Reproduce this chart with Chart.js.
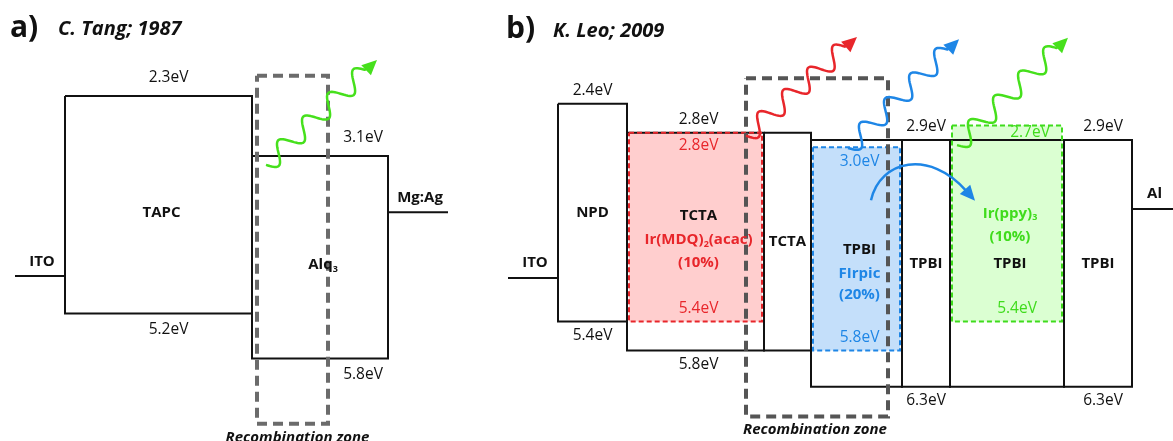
<!DOCTYPE html>
<html>
<head>
<meta charset="utf-8">
<title>OLED energy levels</title>
<script src="https://cdn.jsdelivr.net/npm/chart.js@4.4.1/dist/chart.umd.min.js"></script>
<style>
  html, body { margin: 0; padding: 0; background: #fff; }
  #wrap { width: 1173px; height: 441px; }
</style>
</head>
<body>
<div id="wrap"><canvas id="levels" width="1173" height="441"></canvas></div>
<script>
/* ================= DATA ================= */

// a) C. Tang; 1987  (energies in eV below vacuum)
const layersA = ["TAPC", "Alq_3"];
const lumoA = [2.3, 3.1];
const homoA = [5.2, 5.8];
const edgesA = [65, 252, 388];            // layer boundaries along the stack
const electrodesA = ["ITO", "Mg:Ag"];
const workFnA = [4.7, 3.85];
const electrodeSpanA = [[15, 65], [388, 448]];
const zoneSpanA = [257, 328];
const zoneLevelsA = [2.03, 6.67];

// b) K. Leo; 2009
const layersB = ["NPD", "TCTA", "TCTA", "TPBI", "TPBI", "TPBI", "TPBI"];
const lumoB = [2.4, 2.8, 2.8, 2.9, 2.9, 2.9, 2.9];
const homoB = [5.4, 5.8, 5.8, 6.3, 6.3, 6.3, 6.3];
const edgesB = [558, 627, 764, 811, 902, 950, 1064, 1132];
const labelledB = [true, true, false, false, true, false, true];
const electrodesB = ["ITO", "Al"];
const workFnB = [4.8, 3.85];
const electrodeSpanB = [[508, 558], [1132, 1173]];
const zoneSpanB = [746, 888];
const zoneLevelsB = [2.05, 6.71];

// emitters doped into panel b hosts
const dopants = ["Ir(MDQ)_2(acac)", "FIrpic", "Ir(ppy)_3"];
const dopantHost = [1, 3, 5];
const dopantLumo = [2.8, 3.0, 2.7];
const dopantHomo = [5.4, 5.8, 5.4];
const dopantConc = ["(10%)", "(20%)", "(10%)"];

/* ================= STYLE ================= */

const FONT = '"Open Sans", "Liberation Sans", sans-serif';
const INK = "#111";
const LABEL = 15.5;     // eV labels
const NAME = 15;        // layer names
const dopantLine = ["#e8262b", "#1e86e6", "#3fdc1c"];
const dopantFill = ["rgba(255,190,190,0.75)", "rgba(190,220,250,0.9)", "rgba(215,255,205,0.9)"];
const levelDxA = [10, 43];
const levelDxB = [0, 3, 0, 0, 0, 0, 5];
const dopantTopDx = [3, 3, 23];
const dopantTopDy = [13, 14, 7];
const dopantBotDx = [3, 3, 10];
// [host name, dopant name, concentration] vertical offsets from box middle
const dopantRowDy = [[-26, -2, 21], [-14, 10, 31], [0, -50, -27]];

// photons: [panel, colour, fromX, fromE, toX, toE]
const photons = [
  ["A", "#46e01c", 266, 3.22, 377, 1.82],
  ["B", "#e8262b", 746, 2.84, 857, 1.48],
  ["B", "#1e86e6", 848, 3.01, 959, 1.51],
  ["B", "#46e01c", 957, 2.97, 1068, 1.49]
];

/* ================= DATASETS ================= */

function box(x0, x1, top, bottom) {
  return [
    { x: x0, y: top }, { x: x1, y: top },
    { x: x1, y: bottom }, { x: x0, y: bottom }, { x: x0, y: top }
  ];
}

const datasets = [];

// dopant shading (behind everything)
dopants.forEach((d, i) => {
  const h = dopantHost[i];
  datasets.push({
    data: box(edgesB[h] + 2, edgesB[h + 1] - 2, dopantLumo[i], dopantHomo[i]),
    yAxisID: "yB", borderWidth: 0, backgroundColor: dopantFill[i],
    fill: "shape", order: 6
  });
});

// layer boxes
layersA.forEach((n, i) => {
  datasets.push({
    data: box(edgesA[i], edgesA[i + 1], lumoA[i], homoA[i]),
    yAxisID: "yA", borderColor: INK, borderWidth: 2, fill: false, order: 4
  });
});
layersB.forEach((n, i) => {
  datasets.push({
    data: box(edgesB[i], edgesB[i + 1], lumoB[i], homoB[i]),
    yAxisID: "yB", borderColor: INK, borderWidth: 2, fill: false, order: 4
  });
});

// dopant dashed outlines
dopants.forEach((d, i) => {
  const h = dopantHost[i];
  datasets.push({
    data: box(edgesB[h] + 2, edgesB[h + 1] - 2, dopantLumo[i], dopantHomo[i]),
    yAxisID: "yB", borderColor: dopantLine[i], borderWidth: 2,
    borderDash: [5, 3], fill: false, order: 3
  });
});

// electrodes
electrodesA.forEach((n, i) => {
  const [x0, x1] = electrodeSpanA[i];
  datasets.push({
    data: [{ x: x0, y: workFnA[i] }, { x: x1, y: workFnA[i] }],
    yAxisID: "yA", borderColor: INK, borderWidth: 2, order: 4
  });
});
electrodesB.forEach((n, i) => {
  const [x0, x1] = electrodeSpanB[i];
  datasets.push({
    data: [{ x: x0, y: workFnB[i] }, { x: x1, y: workFnB[i] }],
    yAxisID: "yB", borderColor: INK, borderWidth: 2, order: 4
  });
});

// recombination zones
datasets.push({
  data: box(zoneSpanA[0], zoneSpanA[1], zoneLevelsA[0], zoneLevelsA[1]),
  yAxisID: "yA", borderColor: "#6b6b6b", borderWidth: 4, borderDash: [10, 6], order: 1
});
datasets.push({
  data: box(zoneSpanB[0], zoneSpanB[1], zoneLevelsB[0], zoneLevelsB[1]),
  yAxisID: "yB", borderColor: "#555555", borderWidth: 4, borderDash: [10, 6], order: 1
});

datasets.forEach(ds => {
  ds.showLine = true;
  ds.pointRadius = 0;
  ds.borderJoinStyle = "miter";
});

/* ================= TEXT + PHOTONS ================= */

// "_2" style markers become subscripts
function richText(ctx, str, x, y, size, weight, color) {
  const parts = str.split(/_(\d)/);
  const big = `${weight} ${size}px ${FONT}`;
  const small = `${weight} ${Math.round(size * 0.6)}px ${FONT}`;
  let total = 0;
  parts.forEach((p, i) => {
    ctx.font = i % 2 ? small : big;
    total += ctx.measureText(p).width;
  });
  let cx = x - total / 2;
  ctx.fillStyle = color;
  ctx.textAlign = "left";
  ctx.textBaseline = "middle";
  parts.forEach((p, i) => {
    ctx.font = i % 2 ? small : big;
    ctx.fillText(p, cx, i % 2 ? y + size * 0.3 : y);
    cx += ctx.measureText(p).width;
  });
}

function arrowHead(ctx, tx, ty, ux, uy, len, half, color) {
  ctx.fillStyle = color;
  ctx.beginPath();
  ctx.moveTo(tx, ty);
  ctx.lineTo(tx - ux * len - uy * half, ty - uy * len + ux * half);
  ctx.lineTo(tx - ux * len + uy * half, ty - uy * len - ux * half);
  ctx.closePath();
  ctx.fill();
}

function wavyArrow(ctx, x0, y0, x1, y1, color) {
  const len = Math.hypot(x1 - x0, y1 - y0);
  const ux = (x1 - x0) / len, uy = (y1 - y0) / len;
  const head = 15, run = len - head;
  const periods = 4, amp = 9.5;
  ctx.strokeStyle = color;
  ctx.lineWidth = 2.5;
  ctx.lineJoin = "round";
  ctx.beginPath();
  for (let s = 0; s <= run; s += 1) {
    const w = amp * Math.sin(2 * Math.PI * periods * s / run);
    const px = x0 + ux * s - uy * w;
    const py = y0 + uy * s + ux * w;
    s === 0 ? ctx.moveTo(px, py) : ctx.lineTo(px, py);
  }
  ctx.lineTo(x0 + ux * (run + 4), y0 + uy * (run + 4));
  ctx.stroke();
  arrowHead(ctx, x1, y1, ux, uy, head, 7, color);
}

const annotate = {
  id: "annotate",
  afterDatasetsDraw(chart) {
    const { ctx, scales } = chart;
    const X = v => scales.x.getPixelForValue(v);
    const YA = v => scales.yA.getPixelForValue(v);
    const YB = v => scales.yB.getPixelForValue(v);
    ctx.save();

    // panel titles
    ctx.textAlign = "left";
    ctx.textBaseline = "alphabetic";
    ctx.fillStyle = "#111";
    ctx.font = `bold 30px ${FONT}`;
    ctx.fillText("a)", 10, 37);
    ctx.fillText("b)", 506, 38);
    ctx.font = `italic bold 20px ${FONT}`;
    ctx.fillText("C. Tang; 1987", 58, 35);
    ctx.fillText("K. Leo; 2009", 553, 37);

    // panel a levels and names
    layersA.forEach((n, i) => {
      const cx = X((edgesA[i] + edgesA[i + 1]) / 2);
      const top = YA(lumoA[i]), bot = YA(homoA[i]);
      richText(ctx, lumoA[i].toFixed(1) + "eV", cx + levelDxA[i], top - 18, LABEL, "normal", INK);
      richText(ctx, homoA[i].toFixed(1) + "eV", cx + levelDxA[i], bot + 16, LABEL, "normal", INK);
      richText(ctx, n, cx + 3, (top + bot) / 2 + 8, NAME, "bold", INK);
    });

    // panel b levels and names
    layersB.forEach((n, i) => {
      const cx = X((edgesB[i] + edgesB[i + 1]) / 2);
      const top = YB(lumoB[i]), bot = YB(homoB[i]);
      if (labelledB[i]) {
        richText(ctx, lumoB[i].toFixed(1) + "eV", cx + levelDxB[i], top - 13, LABEL, "normal", INK);
        richText(ctx, homoB[i].toFixed(1) + "eV", cx + levelDxB[i], bot + 14, LABEL, "normal", INK);
      }
      const d = dopantHost.indexOf(i);
      const dy = d >= 0 ? dopantRowDy[d][0] : 0;
      richText(ctx, n, cx + (d >= 0 ? 3 : 0), (top + bot) / 2 + dy, NAME, "bold", INK);
    });

    // dopant labels
    dopants.forEach((name, i) => {
      const h = dopantHost[i];
      const cx = X((edgesB[h] + edgesB[h + 1]) / 2);
      const mid = (YB(lumoB[h]) + YB(homoB[h])) / 2;
      const col = dopantLine[i];
      richText(ctx, name, cx + 3, mid + dopantRowDy[i][1], NAME, "bold", col);
      richText(ctx, dopantConc[i], cx + 3, mid + dopantRowDy[i][2], NAME, "bold", col);
      richText(ctx, dopantLumo[i].toFixed(1) + "eV", cx + dopantTopDx[i], YB(dopantLumo[i]) + dopantTopDy[i], LABEL, "normal", col);
      richText(ctx, dopantHomo[i].toFixed(1) + "eV", cx + dopantBotDx[i], YB(dopantHomo[i]) - 13, LABEL, "normal", col);
    });

    // electrodes
    electrodesA.forEach((n, i) => {
      const [x0, x1] = electrodeSpanA[i];
      richText(ctx, n, X((x0 + x1) / 2) + 2, YA(workFnA[i]) - 14, NAME, "bold", INK);
    });
    electrodesB.forEach((n, i) => {
      const [x0, x1] = electrodeSpanB[i];
      richText(ctx, n, X((x0 + x1) / 2) + 2, YB(workFnB[i]) - 15, NAME, "bold", INK);
    });

    // recombination zone captions
    richText(ctx, "Recombination zone", X((zoneSpanA[0] + zoneSpanA[1]) / 2) + 5,
      YA(zoneLevelsA[1]) + 14, 15, "italic bold", INK);
    richText(ctx, "Recombination zone", X((zoneSpanB[0] + zoneSpanB[1]) / 2) - 2,
      YB(zoneLevelsB[1]) + 13, 15, "italic bold", INK);

    // emitted photons
    photons.forEach(([panel, col, fx, fe, tx, te]) => {
      const Y = panel === "A" ? YA : YB;
      wavyArrow(ctx, X(fx), Y(fe), X(tx), Y(te), col);
    });

    // energy transfer FIrpic -> Ir(ppy)3
    const p0 = [X(871), YB(3.73)], c1 = [X(880), YB(3.17)];
    const c2 = [X(930), YB(3.03)], p3 = [X(972), YB(3.68)];
    ctx.strokeStyle = "#1e86e6";
    ctx.lineWidth = 2.5;
    ctx.beginPath();
    ctx.moveTo(p0[0], p0[1]);
    ctx.bezierCurveTo(c1[0], c1[1], c2[0], c2[1], p3[0] - 6, p3[1] - 6);
    ctx.stroke();
    const dl = Math.hypot(p3[0] - c2[0], p3[1] - c2[1]);
    arrowHead(ctx, p3[0] + 3, p3[1] + 4, (p3[0] - c2[0]) / dl, (p3[1] - c2[1]) / dl, 15, 7, "#1e86e6");

    ctx.restore();
  }
};

/* ================= CHART ================= */

new Chart(document.getElementById("levels"), {
  type: "scatter",
  data: { datasets },
  options: {
    responsive: false,
    animation: false,
    layout: { padding: 0 },
    plugins: { legend: { display: false }, tooltip: { enabled: false } },
    scales: {
      x: { type: "linear", display: false, min: 0, max: 1173 },
      yA: { type: "linear", display: false, reverse: true, min: 1.021, max: 6.901 },
      yB: { type: "linear", display: false, reverse: true, min: 0.970, max: 7.047 }
    },
    elements: { line: { tension: 0 } }
  },
  plugins: [annotate]
});
</script>
</body>
</html>
